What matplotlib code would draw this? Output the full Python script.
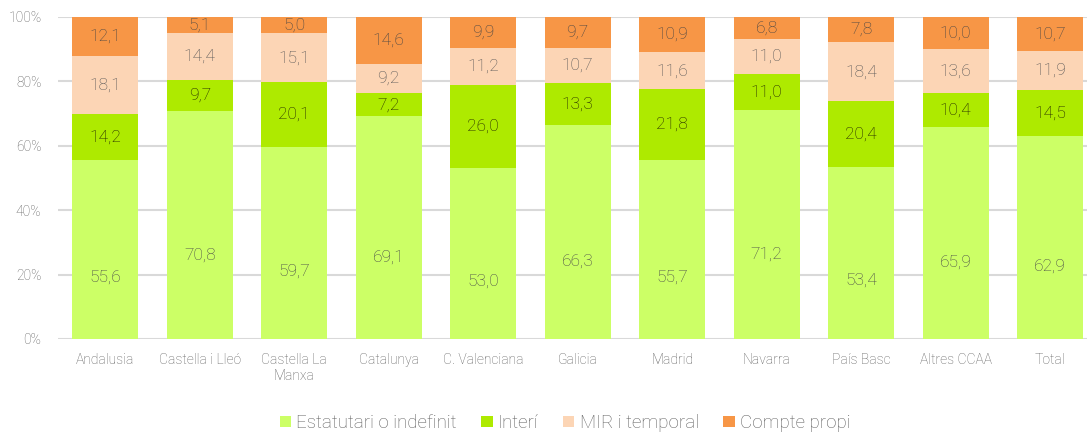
import matplotlib
matplotlib.use("Agg")
import matplotlib.pyplot as plt
import numpy as np

plt.rcParams["font.family"] = ["Roboto", "DejaVu Sans"]
plt.rcParams["font.weight"] = "light"

regions = ["Andalusia", "Castella i Lleó", "Castella La\nManxa", "Catalunya",
           "C. Valenciana", "Galicia", "Madrid", "Navarra", "País Basc",
           "Altres CCAA", "Total"]
estatutari = [55.6, 70.8, 59.7, 69.1, 53.0, 66.3, 55.7, 71.2, 53.4, 65.9, 62.9]
interi = [14.2, 9.7, 20.1, 7.2, 26.0, 13.3, 21.8, 11.0, 20.4, 10.4, 14.5]
mir = [18.1, 14.4, 15.1, 9.2, 11.2, 10.7, 11.6, 11.0, 18.4, 13.6, 11.9]
compte = [12.1, 5.1, 5.0, 14.6, 9.9, 9.7, 10.9, 6.8, 7.8, 10.0, 10.7]

series = [
    ("Estatutari o indefinit", estatutari, "#ccff66", "#4a4a4a"),
    ("Interí", interi, "#aeea00", "#1f2200"),
    ("MIR i temporal", mir, "#fcd5b5", "#555555"),
    ("Compte propi", compte, "#f79646", "#444444"),
]

fig = plt.figure(figsize=(10.87, 4.34), dpi=100)
ax = fig.add_axes([0.0534, 0.219, 0.9466, 0.742])

x = np.arange(len(regions))
bottom = np.zeros(len(regions))
for i, (name, vals, color, tcolor) in enumerate(series):
    vals = np.array(vals)
    ax.bar(x, vals, 0.7, bottom=bottom, color=color, label=name, zorder=2)
    for xi, b, v in zip(x, bottom, vals):
        # the bottom series labels sit below the segment middle in the original
        if i == 0:
            ypos = v * 0.46 - 6.4
        else:
            ypos = b + v / 2
        ax.text(xi, ypos, f"{v:.1f}".replace(".", ","), ha="center", va="center",
                fontsize=12.5, color=tcolor, zorder=3)
    bottom += vals

ax.set_xlim(-0.5, 10.39)
ax.set_ylim(0, 100)
ax.set_yticks(np.arange(0, 101, 20))
ax.set_yticklabels([f"{t}%" for t in range(0, 101, 20)])
ax.yaxis.grid(True, color="#d9d9d9", linewidth=1.5, zorder=0)
ax.set_axisbelow(True)
for s in ax.spines.values():
    s.set_visible(False)
ax.tick_params(axis="both", length=0, colors="#5f5f5f", labelsize=10)
ax.tick_params(axis="y", pad=12)
ax.tick_params(axis="x", pad=10)
ax.set_xticks(x)
ax.set_xticklabels(regions, color="#5f5f5f")

leg = fig.legend(loc="center", bbox_to_anchor=(0.52, 0.025), ncol=4, frameon=False,
                 fontsize=13.5, handlelength=0.6, handleheight=0.6,
                 handletextpad=0.3, columnspacing=1.3)
for t in leg.get_texts():
    t.set_color("#5f5f5f")

fig.savefig("out.png", dpi=100)
